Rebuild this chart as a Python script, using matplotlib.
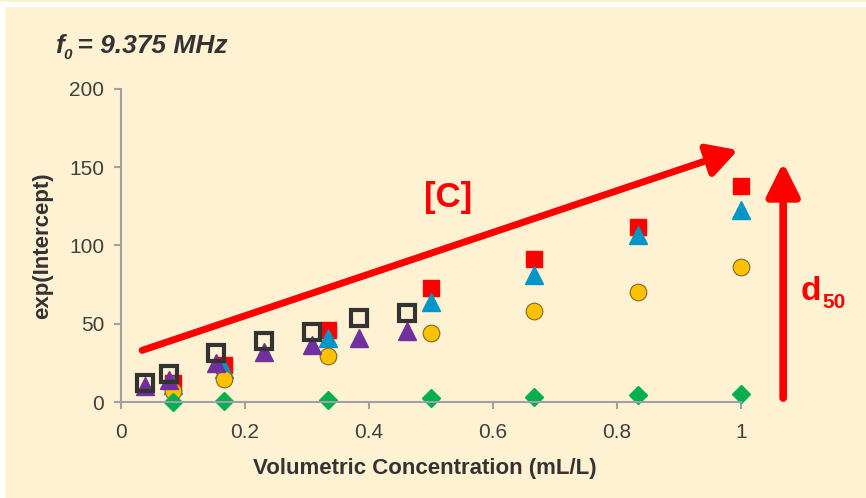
import matplotlib.pyplot as plt
from matplotlib.patches import Rectangle

plt.rcParams['font.family'] = ['Liberation Sans', 'DejaVu Sans']

# concentrations (mL/L)
conc_a = [1/12, 1/6, 1/3, 1/2, 2/3, 5/6, 1.0]
conc_b = [0.5/13, 1/13, 2/13, 3/13, 4/13, 5/13, 6/13]

red_sq = [12, 23.5, 46, 73, 91.5, 112, 138]
blue_tri = [11, 21, 41, 64, 81, 107, 123]
yellow_circ = [7, 15, 29.5, 44, 58, 70, 86]
green_dia = [0.3, 0.6, 1.2, 2.5, 3.5, 4.2, 5.2]
purple_tri = [10, 14, 25, 32, 36.5, 41, 45.5]
black_sq = [12, 18, 31, 39, 45, 53.5, 57]

cream = '#FEF2D2'
W, H = 866, 498

fig = plt.figure(figsize=(W / 100, H / 100), dpi=100, facecolor=cream)
fig.patches.append(Rectangle((0, 1 - 7 / H), 1, 5 / H, transform=fig.transFigure,
                             facecolor='white', edgecolor='none', zorder=0))
fig.patches.append(Rectangle((0, 0), 5 / W, 1 - 2 / H, transform=fig.transFigure,
                             facecolor='white', edgecolor='none', zorder=0))

ax = fig.add_axes([121 / W, 1 - 402 / H, 620 / W, 313 / H])
ax.set_facecolor(cream)

kw = dict(linestyle='none', clip_on=False)
ax.plot(conc_a, red_sq, marker='s', ms=11.5, color='#FF0000', mec='#FF0000', **kw)
ax.plot(conc_a, blue_tri, marker='^', ms=13, color='#0096C8', mec='#0096C8', **kw)
ax.plot(conc_a, yellow_circ, marker='o', ms=12, color='#FFC000', mec='#7F6A20', mew=0.8, **kw)
ax.plot(conc_a, green_dia, marker='D', ms=9, color='#00B050', mec='#00B050', **kw)
ax.plot(conc_b, purple_tri, marker='^', ms=13, color='#7030A0', mec='#7030A0', **kw)
ax.plot(conc_b, black_sq, marker='s', ms=12, mfc='none', mec='#333333', mew=3, **kw)

ax.set_xlim(0, 1)
ax.set_ylim(0, 200)
ax.set_xticks([0, 0.2, 0.4, 0.6, 0.8, 1.0])
ax.set_xticklabels(['0', '0.2', '0.4', '0.6', '0.8', '1'])
ax.set_yticks([0, 50, 100, 150, 200])

for s in ['top', 'right']:
    ax.spines[s].set_visible(False)
for s in ['left', 'bottom']:
    ax.spines[s].set_color('#A0A0A0')
    ax.spines[s].set_linewidth(1.5)
ax.tick_params(direction='out', length=5, width=1.5, color='#A0A0A0',
               labelsize=15, labelcolor='#404040', pad=7)
ax.tick_params(axis='x', pad=10)

ax.set_xlabel('Volumetric Concentration (mL/L)', fontsize=16, fontweight='bold', color='#333333')
ax.set_ylabel('exp(Intercept)', fontsize=16, fontweight='bold', color='#333333')
ax.xaxis.set_label_coords(0.49, -0.18)
ax.yaxis.set_label_coords(-0.11, 0.5)

# arrows
ax.annotate('', xy=(0.995, 161), xytext=(0.034, 33), annotation_clip=False,
            arrowprops=dict(arrowstyle='-|>,head_width=0.5,head_length=0.9',
                            lw=5, color='#FF0000', mutation_scale=20, shrinkA=0, shrinkB=0))
ax.annotate('', xy=(1.068, 153), xytext=(1.068, 2.5), annotation_clip=False,
            arrowprops=dict(arrowstyle='-|>,head_width=0.5,head_length=1.0',
                            lw=5.5, color='#FF0000', mutation_scale=20, shrinkA=0, shrinkB=0))

fig.text(448 / W, 1 - 197 / H, '[C]', fontsize=25, fontweight='bold', color='#FF0000',
         ha='center', va='center')
fig.text(801 / W, 1 - 300 / H, 'd', fontsize=24, fontweight='bold', color='#FF0000', va='baseline')
fig.text(822 / W, 1 - 308 / H, '50', fontsize=15, fontweight='bold', color='#FF0000', va='baseline')

# title
fig.text(55 / W, 1 - 53 / H, 'f', fontsize=19, fontweight='bold', style='italic',
         color='#333333', va='baseline')
fig.text(63 / W, 1 - 59 / H, '0', fontsize=11, fontweight='bold', style='italic',
         color='#333333', va='baseline')
fig.text(70 / W, 1 - 53 / H, ' = 9.375 MHz', fontsize=19, fontweight='bold', style='italic',
         color='#333333', va='baseline')

fig.savefig('out.png', dpi=100, facecolor=cream)
